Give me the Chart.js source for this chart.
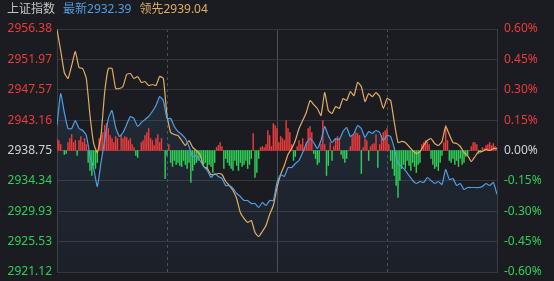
<!DOCTYPE html>
<html>
<head>
<meta charset="utf-8">
<script src="https://cdn.jsdelivr.net/npm/chart.js@4.4.1/dist/chart.umd.min.js"></script>
<style>
  html, body { margin: 0; padding: 0; background: #1b1c21; }
  #wrap { position: relative; width: 554px; height: 281px; }
  #head { position: absolute; left: 7px; top: 1px; font: 12px "Noto Sans", "Noto Sans CJK SC", sans-serif; line-height: 16px; white-space: nowrap; }
  #head span { margin-right: 8px; }
</style>
</head>
<body>
<div id="wrap">
  <div id="head">
    <span style="color:#c4c4c4">上证指数</span><span style="color:#4f9fe4">最新2932.39</span><span style="color:#e3ac62">领先2939.04</span>
  </div>
  <canvas id="c"></canvas>
</div>
<script>
// --- données ---
const base = 2938.75;

// ticks de l'axe gauche (points) et droit (%)
const leftTicks = [2956.38, 2951.97, 2947.57, 2943.16, 2938.75, 2934.34, 2929.93, 2925.53, 2921.12];
const pctTicks = [0.60, 0.45, 0.30, 0.15, 0.00, -0.15, -0.30, -0.45, -0.60];
// repères verticaux (minutes depuis 9:30) : 10:30, 11:30/13:00, 14:00
const timeTicks = [0, 60, 120, 180, 240];

// minutes de la séance (0 = 9:30, 240 = 15:00), une valeur toutes les 2 minutes
const latest = [
  2942.38, 2947.02, 2944.26, 2941.94, 2941.94, 2943.10, 2941.94, 2941.65, 2940.93, 2938.02,
  2936.14, 2933.53, 2937.01, 2940.20, 2943.39, 2944.55, 2942.09, 2940.78, 2941.36, 2942.52,
  2943.68, 2943.39, 2942.23, 2942.81, 2943.25, 2943.68, 2944.41, 2945.28, 2946.58, 2946.00,
  2943.39, 2943.39, 2942.23, 2941.51, 2941.07, 2940.49, 2939.33, 2937.88, 2938.02, 2937.30,
  2936.43, 2935.85, 2934.83, 2935.41, 2934.98, 2934.69, 2933.67, 2933.67, 2933.24, 2932.51,
  2932.08, 2931.50, 2931.50, 2931.06, 2931.06, 2930.48, 2931.21, 2930.77, 2931.50, 2931.50,
  2934.11, 2935.27, 2934.98, 2936.28, 2936.28, 2936.86, 2937.30, 2938.46, 2939.77, 2940.49,
  2939.91, 2939.04, 2940.20, 2942.23, 2940.93, 2939.91, 2940.49, 2940.35, 2941.51, 2942.09,
  2940.78, 2941.22, 2942.38, 2941.94, 2940.64, 2941.51, 2941.22, 2941.65, 2941.36, 2940.20,
  2940.93, 2940.78, 2939.04, 2936.86, 2936.43, 2935.85, 2935.12, 2934.40, 2933.96, 2934.25,
  2934.11, 2934.83, 2934.40, 2933.96, 2934.25, 2933.82, 2935.99, 2934.54, 2934.69, 2933.67,
  2933.96, 2933.09, 2933.38, 2933.38, 2933.38, 2933.38, 2933.53, 2933.96, 2933.67, 2934.11,
  2932.39
];

const leading = [
  2956.30, 2953.26, 2950.07, 2949.20, 2951.08, 2953.11, 2950.79, 2950.65, 2949.20, 2943.83,
  2939.77, 2938.46, 2940.93, 2947.16, 2950.65, 2950.65, 2947.74, 2947.74, 2948.03, 2949.78,
  2949.92, 2949.20, 2949.49, 2948.62, 2948.76, 2948.18, 2948.33, 2948.18, 2949.49, 2949.20,
  2943.83, 2941.36, 2941.07, 2940.93, 2940.20, 2939.48, 2940.20, 2939.19, 2938.75, 2938.17,
  2936.43, 2936.14, 2935.27, 2935.27, 2935.41, 2935.27, 2934.25, 2933.67, 2932.95, 2931.79,
  2929.76, 2928.89, 2928.31, 2928.60, 2926.85, 2926.27, 2927.00, 2927.87, 2929.47, 2930.77,
  2933.38, 2935.27, 2936.57, 2938.17, 2939.04, 2940.20, 2941.94, 2943.10, 2944.26, 2946.00,
  2945.42, 2944.84, 2943.83, 2947.16, 2944.55, 2944.12, 2945.13, 2944.84, 2946.29, 2946.00,
  2947.31, 2946.73, 2948.62, 2948.03, 2945.86, 2947.02, 2946.58, 2947.16, 2946.58, 2944.84,
  2946.29, 2946.00, 2942.81, 2939.91, 2940.06, 2939.91, 2939.33, 2938.75, 2938.31, 2938.60,
  2939.48, 2940.20, 2940.49, 2939.77, 2939.48, 2940.06, 2942.23, 2941.07, 2939.91, 2939.77,
  2939.33, 2938.46, 2938.02, 2937.15, 2937.88, 2938.60, 2938.60, 2938.90, 2938.75, 2939.04,
  2939.04
];

// barres rouges / vertes, une par minute (échelle propre, 0 au centre)
const strength = [
  12, 10, 6, 0, -4, -3, 8, 12, 16, 8, 10, -5, 10, 14, 8, 12, 6,
  -12, -20, -25, -15, -18, -12, 12, 15, 18, 25, 27, 22, 15, 12, 8, 14, 12, 0,
  15, 12, 14, 13, 10, 12, 6, 3, -5, -7, 0, 8, 10, 15, 18, 22, 12, 10, 5, 12,
  16, 8, 12, 0, -28, -5, 6, -12, -16, -10, -14, -12, -15, -16, -10, -14, -18, -12,
  -32, -20, -14, -12, -10, -8, -12, -14, -12, -18, -14, -16, -22, -12, 3, 5, 8, 4,
  -18, -8, -12, -15, -18, -20, -10, -15, -20, -12, -16, -14, -10, -18, -14, -8, 17,
  -27, -22, -8, 3, 4, 3, 6, 20, 15, 4, 27, 25, 22, 8, 14, 12, 10, 30, 22, 18, 6,
  -10, -6, 4, 10, 6, 12, 2, 8, 22, 24, 18, -3, -8, -14, -12, 6, 30, 6, -25, -15, 8,
  -10, 4, 12, 14, 12, -4, -8, -12, -8, 0, 4, 14, 16, 18, 17, 15, -23, 3, 12, 10,
  -10, 4, 6, 7, 16, -17, 6, 15, 18, 20, 22, 6, -10, -18, -25, -35, -47, -30, -18,
  -14, -18, -10, -15, -20, -12, -16, -22, -14, -12, 6, 8, 10, 8, 6, -8, -14, -18,
  -16, -20, -12, -5, 8, 25, 10, -10, -12, -8, -14, -10, -16, -8, -14, -12, -6, -4,
  0, 4, 8, 8, 6, -3, -2, 3, 2, 5, 6, 8, 5, 7, 4, 3
];

// --- couleurs ---
const RED = '#ec3b3b';
const GREEN = '#2fcf57';
const GRID = '#34363c';
const BLUE = '#4f9fe4';
const ORANGE = '#e3ac62';

// largeur fixe des axes + marge verticale réduite (les libellés débordent du cadre)
function fitAxis(s) {
  s.width = 57;
  s.paddingTop = 7;
  s.paddingBottom = 7;
}

const ctx = document.getElementById('c');

new Chart(ctx, {
  data: {
    datasets: [
      {
        type: 'line',
        label: '最新',
        data: latest.map((v, i) => ({ x: i * 2, y: v })),
        yAxisID: 'y',
        borderColor: BLUE,
        borderWidth: 1.2,
        pointRadius: 0,
        tension: 0.15,
        fill: 'start',
        backgroundColor: function(c) {
          const a = c.chart.chartArea;
          if (!a) return 'rgba(79,159,228,0.08)';
          const g = c.chart.ctx.createLinearGradient(0, a.top, 0, a.bottom);
          g.addColorStop(0, 'rgba(79,159,228,0.14)');
          g.addColorStop(1, 'rgba(79,159,228,0.04)');
          return g;
        },
        order: 1
      },
      {
        type: 'line',
        label: '领先',
        data: leading.map((v, i) => ({ x: i * 2, y: v })),
        yAxisID: 'y',
        borderColor: ORANGE,
        borderWidth: 1.2,
        pointRadius: 0,
        tension: 0.15,
        fill: false,
        order: 2
      },
      {
        type: 'bar',
        data: strength.map((v, i) => ({ x: i, y: v })),
        yAxisID: 'yb',
        backgroundColor: strength.map(v => v >= 0 ? RED : GREEN),
        barThickness: 0.8,
        order: 3
      }
    ]
  },
  options: {
    responsive: true,
    maintainAspectRatio: false,
    animation: false,
    layout: { padding: { top: 29, bottom: 9, left: 0, right: 0 } },
    plugins: {
      legend: { display: false },
      tooltip: { enabled: false },
      filler: { drawTime: 'beforeDatasetsDraw' }
    },
    scales: {
      x: {
        type: 'linear',
        min: 0,
        max: 240,
        offset: false,
        afterBuildTicks: s => { s.ticks = timeTicks.map(v => ({ value: v })); },
        afterFit: s => { s.height = 0; },
        ticks: { display: false },
        grid: {
          offset: false,
          drawTicks: false,
          color: c => (c.index === 0 || c.index === 4) ? 'rgba(0,0,0,0)' : '#4c4e55'
        },
        border: {
          display: false,
          dash: c => (c.index === 1 || c.index === 3) ? [3, 3] : []
        }
      },
      y: {
        position: 'left',
        min: leftTicks[leftTicks.length - 1],
        max: leftTicks[0],
        afterBuildTicks: s => { s.ticks = leftTicks.map(v => ({ value: v })); },
        afterFit: fitAxis,
        grid: { color: GRID, drawTicks: false },
        border: { color: '#3a3c42' },
        ticks: {
          padding: 5,
          font: { family: '"Noto Sans", "Noto Sans CJK SC", sans-serif', size: 12 },
          color: c => c.tick.value > base + 0.001 ? RED : (c.tick.value < base - 0.001 ? GREEN : '#d2d2d2'),
          callback: v => v.toFixed(2)
        }
      },
      y2: {
        position: 'right',
        min: -0.6,
        max: 0.6,
        afterBuildTicks: s => { s.ticks = pctTicks.map(v => ({ value: v })); },
        afterFit: fitAxis,
        grid: { display: false, drawTicks: false },
        border: { color: '#3a3c42' },
        ticks: {
          padding: 7,
          font: { family: '"Noto Sans", "Noto Sans CJK SC", sans-serif', size: 12 },
          color: c => c.tick.value > 0.001 ? RED : (c.tick.value < -0.001 ? GREEN : '#d2d2d2'),
          callback: v => v.toFixed(2) + '%'
        }
      },
      yb: {
        display: false,
        min: -121.5,
        max: 121.5
      }
    }
  }
});
</script>
</body>
</html>
